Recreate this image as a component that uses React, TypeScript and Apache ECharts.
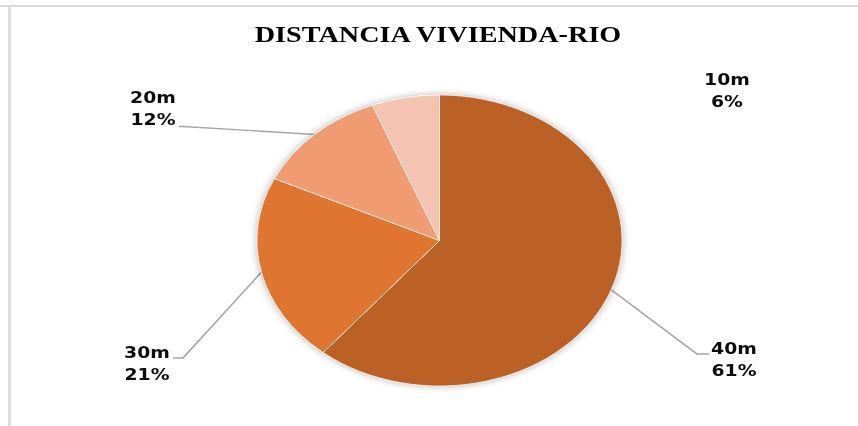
import React, { useEffect, useRef } from 'react';
import * as echarts from 'echarts';

// ---- data ----
const TITLE = 'DISTANCIA VIVIENDA-RIO';
const categories = ['40m', '30m', '20m', '10m'];
const shares = [61, 21, 12, 6];

// ---- styles ----
const sliceColors = ['#BB6125', '#E0752F', '#F09B71', '#F5C3B2'];

// ---- layout ----
// The reference picture is stretched horizontally (elliptical pie, wide glyphs),
// so the chart is drawn in a narrower box and stretched with scaleX.
const W = 858;
const H = 426;
const INNER_W = 684;
const K = W / INNER_W;
const ix = (x: number) => x / K; // page px -> chart px

// label blocks (centre x, top y) and leader-line points beyond the slice edge, page px
const labelSpots: { cx: number; top: number; line: number[][] | null }[] = [
  { cx: 734, top: 338, line: [[697, 354], [709, 354]] },
  { cx: 147, top: 342, line: [[183, 358], [173, 358]] },
  { cx: 153, top: 87, line: [[183, 126.5], [179, 126.5]] },
  { cx: 727, top: 69, line: null },
];

export default function App() {
  const ref = useRef<HTMLDivElement>(null);

  useEffect(() => {
    if (!ref.current) return;
    const chart = echarts.init(ref.current, null, { renderer: 'svg' });
    const center = [ix(439.5), 240.5];
    const radius = 145.5;

    chart.setOption({
      animation: false,
      backgroundColor: '#ffffff',
      graphic: [
        {
          type: 'line',
          silent: true,
          shape: { x1: 0, y1: 6, x2: INNER_W, y2: 6 },
          style: { stroke: '#d9d9d9', lineWidth: 2 },
        },
        {
          type: 'line',
          silent: true,
          shape: { x1: ix(9.5), y1: 5, x2: ix(9.5), y2: H },
          style: { stroke: '#d9d9d9', lineWidth: 2 },
        },
        {
          type: 'text',
          silent: true,
          x: ix(438),
          y: 34.5,
          style: {
            text: TITLE,
            fill: '#000000',
            font: 'bold 22.5px "Liberation Serif", "Times New Roman", serif',
            align: 'center',
            verticalAlign: 'middle',
            textAlign: 'center',
            textVerticalAlign: 'middle',
          },
        },
      ],
      series: [
        {
          // soft drop shadow beneath the pie
          type: 'pie',
          silent: true,
          center,
          radius,
          label: { show: false },
          labelLine: { show: false },
          itemStyle: {
            color: '#ffffff',
            shadowBlur: 7,
            shadowColor: 'rgba(0,0,0,0.32)',
          },
          data: [{ value: 1, name: '' }],
        },
        {
          type: 'pie',
          center,
          radius,
          startAngle: 90,
          clockwise: true,
          avoidLabelOverlap: false,
          data: categories.map((name, i) => ({
            name,
            value: shares[i],
            itemStyle: { color: sliceColors[i] },
            labelLine: { show: labelSpots[i].line !== null },
          })),
          itemStyle: { borderColor: '#ffffff', borderWidth: 0.6 },
          label: {
            show: true,
            position: 'outside',
            formatter: (p: any) => `${p.name}\n${Math.round(p.percent)}%`,
            color: '#0d0d0d',
            fontFamily: '"DejaVu Sans", Verdana, sans-serif',
            fontWeight: 'bold',
            fontSize: 15,
            lineHeight: 22,
          },
          labelLine: {
            show: true,
            length: 10,
            length2: 10,
            lineStyle: { color: '#a6a6a6', width: 1.4 },
          },
          labelLayout: (params: any) => {
            const s = labelSpots[params.dataIndex];
            const out: any = {
              x: ix(s.cx),
              y: s.top,
              align: 'center',
              verticalAlign: 'top',
            };
            if (s.line && params.labelLinePoints) {
              const p0 = params.labelLinePoints[0];
              out.labelLinePoints = [
                [p0[0], p0[1]],
                ...s.line.map(([x, y]) => [ix(x), y]),
              ];
            }
            return out;
          },
        },
      ],
    });

    return () => chart.dispose();
  }, []);

  return (
    <div
      style={{
        position: 'fixed',
        left: 0,
        top: 0,
        width: W,
        height: H,
        overflow: 'hidden',
        background: '#ffffff',
      }}
    >
      <div
        ref={ref}
        style={{
          width: INNER_W,
          height: H,
          transform: `scaleX(${K})`,
          transformOrigin: '0 0',
        }}
      />
    </div>
  );
}
